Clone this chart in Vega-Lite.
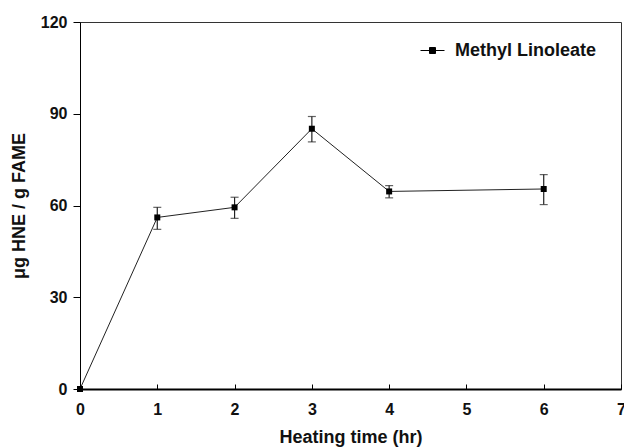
{
  "$schema": "https://vega.github.io/schema/vega-lite/v6.json",
  "autosize": "none",
  "width": 541,
  "height": 367,
  "padding": {"left": 80, "top": 22, "right": 3, "bottom": 59},
  "background": "white",
  "config": {
    "view": {"stroke": "#333", "strokeWidth": 1},
    "font": "Liberation Sans",
    "axis": {
      "labelFont": "Liberation Sans",
      "labelFontWeight": "bold",
      "labelFontSize": 16,
      "labelColor": "#111",
      "titleFont": "Liberation Sans",
      "titleFontWeight": "bold",
      "titleFontSize": 18,
      "titleColor": "#111",
      "grid": false,
      "domainColor": "black",
      "tickColor": "black"
    }
  },
  "data": {
    "values": [
      {"time": 0, "hne": 0, "lo": 0, "hi": 0, "series": "Methyl Linoleate"},
      {"time": 1, "hne": 56.1, "lo": 52.2, "hi": 59.4, "series": "Methyl Linoleate"},
      {"time": 2, "hne": 59.4, "lo": 55.8, "hi": 62.7, "series": "Methyl Linoleate"},
      {"time": 3, "hne": 85.1, "lo": 80.8, "hi": 89.1, "series": "Methyl Linoleate"},
      {"time": 4, "hne": 64.6, "lo": 62.5, "hi": 66.5, "series": "Methyl Linoleate"},
      {"time": 6, "hne": 65.4, "lo": 60.3, "hi": 70.1, "series": "Methyl Linoleate"}
    ]
  },
  "encoding": {
    "x": {
      "field": "time",
      "type": "quantitative",
      "scale": {"domain": [0, 7], "nice": false},
      "axis": {
        "title": "Heating time (hr)",
        "values": [0, 1, 2, 3, 4, 5, 6, 7],
        "tickSize": -5,
        "labelPadding": 17,
        "domainWidth": 2,
        "titlePadding": 11,
        "labelFlush": false
      }
    }
  },
  "layer": [
    {
      "transform": [{"filter": "datum.time > 0"}],
      "mark": {"type": "rule", "color": "#222", "strokeWidth": 1.2},
      "encoding": {
        "y": {"field": "lo", "type": "quantitative"},
        "y2": {"field": "hi"}
      }
    },
    {
      "transform": [{"filter": "datum.time > 0"}],
      "mark": {"type": "tick", "orient": "horizontal", "size": 8, "thickness": 1.2, "color": "#222"},
      "encoding": {"y": {"field": "lo", "type": "quantitative"}}
    },
    {
      "transform": [{"filter": "datum.time > 0"}],
      "mark": {"type": "tick", "orient": "horizontal", "size": 8, "thickness": 1.2, "color": "#222"},
      "encoding": {"y": {"field": "hi", "type": "quantitative"}}
    },
    {
      "mark": {"type": "line", "color": "#222", "strokeWidth": 1},
      "encoding": {
        "y": {"field": "hne", "type": "quantitative"}
      }
    },
    {
      "mark": {"type": "point", "shape": "square", "filled": true, "size": 36, "opacity": 1},
      "encoding": {
        "y": {
          "field": "hne",
          "type": "quantitative",
          "scale": {"domain": [0, 120], "nice": false},
          "axis": {
            "title": "μg HNE / g FAME",
            "values": [0, 30, 60, 90, 120],
            "tickSize": 7,
            "labelPadding": 6,
            "titlePadding": 12
          }
        },
        "color": {
          "field": "series",
          "type": "nominal",
          "scale": {"range": ["black"]},
          "legend": {
            "title": null,
            "orient": "none",
            "legendX": 340,
            "legendY": 16,
            "labelFont": "Liberation Sans",
            "labelFontWeight": "bold",
            "labelFontSize": 18,
            "labelColor": "#111",
            "symbolType": "M-1,0H-0.25M0.25,0H1M-0.25,-0.25H0.25V0.25H-0.25Z",
            "symbolSize": 576,
            "symbolStrokeWidth": 1,
            "symbolStrokeColor": "black",
            "symbolFillColor": "black",
            "labelOffset": 10
          }
        }
      }
    }
  ]
}
